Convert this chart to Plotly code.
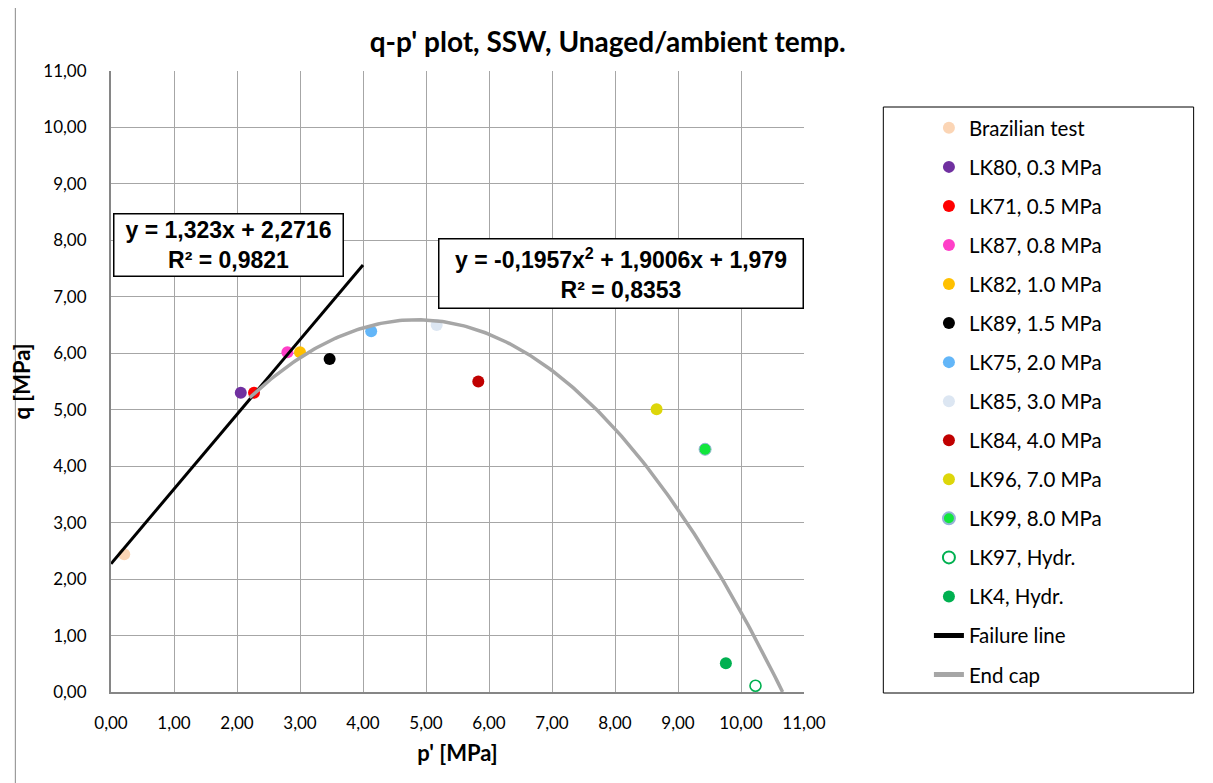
import numpy as np
import plotly.graph_objects as go

# ---- data ----
series_names = ["Brazilian test", "LK80, 0.3 MPa", "LK71, 0.5 MPa", "LK87, 0.8 MPa",
                "LK82, 1.0 MPa", "LK89, 1.5 MPa", "LK75, 2.0 MPa", "LK85, 3.0 MPa",
                "LK84, 4.0 MPa", "LK96, 7.0 MPa", "LK99, 8.0 MPa", "LK97, Hydr.", "LK4, Hydr."]
p_values = [0.21, 2.06, 2.27, 2.80, 3.00, 3.47, 4.13, 5.17, 5.83, 8.66, 9.43, 10.23, 9.76]
q_values = [2.44, 5.30, 5.30, 6.02, 6.02, 5.90, 6.39, 6.50, 5.50, 5.01, 4.30, 0.11, 0.51]
series_colors = ["#FBD5B5", "#7030A0", "#FF0000", "#FF3FC8", "#FFC000", "#000000",
                 "#63B6F8", "#DCE6F2", "#C00000", "#DDD60A", "#12E63C", "#00B050", "#00B050"]

failure_coef = [1.323, 2.2716]            # y = a x + b
failure_range = [0.0, 4.0]
endcap_coef = [-0.1957, 1.9006, 1.979]    # y = a x^2 + b x + c
endcap_range = [2.2, 10.66]

tick_vals = [0, 1, 2, 3, 4, 5, 6, 7, 8, 9, 10, 11]
tick_text = ["0,00", "1,00", "2,00", "3,00", "4,00", "5,00", "6,00", "7,00",
             "8,00", "9,00", "10,00", "11,00"]

FONT = "Lato"
OFF = 8  # page body margin

fig = go.Figure()

for i, (n, px, qy, c) in enumerate(zip(series_names, p_values, q_values, series_colors)):
    marker = dict(size=12, color=c, line=dict(width=0, color=c))
    if n.startswith("LK97"):
        marker = dict(size=11, color=c, symbol="circle-open", line=dict(width=1.6))
    if n.startswith("LK99"):
        marker = dict(size=12, color=c, line=dict(width=1, color="#95B3D7"))
    fig.add_trace(go.Scatter(x=[px], y=[qy], mode="markers", name=n, marker=marker,
                             legendgroup="g%d" % i, cliponaxis=False))

xf = np.linspace(failure_range[0], failure_range[1], 2)
yf = np.polyval(failure_coef, xf)
fig.add_trace(go.Scatter(x=xf, y=yf, mode="lines", name="Failure line",
                         line=dict(color="#000000", width=3), legendgroup="gf"))

xe = np.linspace(endcap_range[0], endcap_range[1], 200)
ye = np.polyval(endcap_coef, xe)
fig.add_trace(go.Scatter(x=xe, y=ye, mode="lines", name="End cap",
                         line=dict(color="#A6A6A6", width=3.5), legendgroup="ge"))

W, H = 1213 - OFF, 783 - OFF
L, R, T, B = 105 - OFF, 804 - OFF, 71 - OFF, 692 - OFF
pw, ph = R - L, B - T


def px_x(p):  # page pixel -> paper
    return (p - OFF - L) / pw


def px_y(p):
    return (B - (p - OFF)) / ph


axis_common = dict(range=[0, 11], tickvals=tick_vals, ticktext=tick_text,
                   showgrid=True, gridcolor="#A6A6A6", gridwidth=1,
                   showline=True, linecolor="#868686", linewidth=2,
                   zeroline=False, ticks="", tickfont=dict(family=FONT, size=17, color="#000"),
                   fixedrange=True)

fig.update_layout(
    width=W, height=H,
    margin=dict(l=L, r=W - R, t=T, b=H - B, pad=0),
    paper_bgcolor="white", plot_bgcolor="white",
    font=dict(family=FONT, size=17, color="#000"),
    title=dict(text="<b>q-p' plot, SSW, Unaged/ambient temp.</b>", x=px_x(606), xanchor="center",
               xref="paper", y=1 - (42 - OFF) / H, yanchor="middle",
               font=dict(family=FONT, size=28, color="#000")),
    xaxis=dict(**axis_common, ticklabelstandoff=15,
               title=dict(text="<b>p' [MPa]</b>", font=dict(family=FONT, size=22), standoff=13)),
    yaxis=dict(**axis_common, ticklabelstandoff=19,
               title=dict(text="<b>q [MPa]</b>", font=dict(family=FONT, size=22), standoff=8)),
    showlegend=True,
    legend=dict(x=px_x(930), xanchor="left", y=px_y(108), yanchor="top",
                bgcolor="rgba(0,0,0,0)", borderwidth=0, tracegroupgap=9.4,
                font=dict(family=FONT, size=20.5, color="#000"), itemsizing="constant"),
)

# outer chart border and legend box
fig.add_shape(type="rect", xref="paper", yref="paper",
              x0=px_x(8.5), x1=px_x(1240), y0=px_y(820), y1=px_y(7.5),
              line=dict(color="#888888", width=1), fillcolor="rgba(0,0,0,0)", layer="below")
fig.add_shape(type="rect", xref="paper", yref="paper",
              x0=px_x(884), x1=px_x(1197), y0=px_y(693), y1=px_y(107),
              line=dict(color="#000000", width=1), fillcolor="rgba(0,0,0,0)")

# trendline equation labels
fig.add_annotation(x=px_x(224), y=px_y(245), xref="paper", yref="paper",
                   xanchor="center", yanchor="middle",
                   text="<b>y = 1,323x + 2,2716<br>R² = 0,9821</b>", showarrow=False,
                   font=dict(family="Liberation Sans", size=23, color="#000"),
                   bgcolor="white", bordercolor="#000", borderwidth=1.5, borderpad=2,
                   width=224, height=57, align="center")
fig.add_annotation(x=px_x(619), y=px_y(273.5), xref="paper", yref="paper",
                   xanchor="center", yanchor="middle",
                   text="<b>y = -0,1957x<sup>2</sup> + 1,9006x + 1,979<br>R² = 0,8353</b>",
                   showarrow=False,
                   font=dict(family="Liberation Sans", size=23, color="#000"),
                   bgcolor="white", bordercolor="#000", borderwidth=1.5, borderpad=2,
                   width=359, height=64, align="center")

fig.write_html("out.html")
